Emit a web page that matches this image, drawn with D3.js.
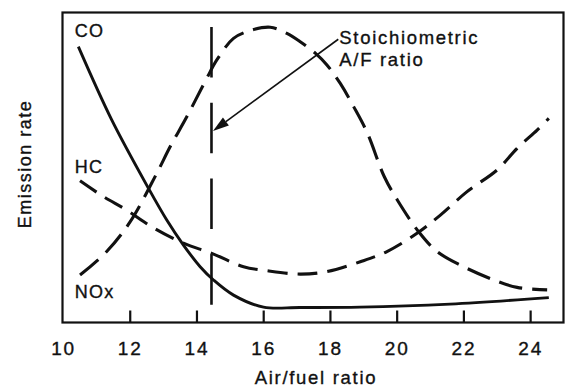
<!DOCTYPE html>
<html>
<head>
<meta charset="utf-8">
<script src="https://cdn.jsdelivr.net/npm/d3@7/dist/d3.min.js"></script>
<style>
  html, body { margin: 0; padding: 0; background: #fff; }
  svg { display: block; }
  text { font-family: "Liberation Sans", Arial, Helvetica, sans-serif; fill: #111; stroke: #111; stroke-width: 0.35px; }
</style>
</head>
<body>
<svg id="chart" width="568" height="387"></svg>
<script>
// Air/fuel ratio (x) vs. relative emission rate (arbitrary 0-100 scale)
const coX  = [10.46, 11.46, 12.56, 13.11, 13.61, 14.11, 14.51, 15.11, 16.01, 17.1, 18.9, 21.6, 24.56];
const coY  = [89.1, 65.4, 43.3, 33.0, 24.9, 17.9, 13.6, 8.7, 4.8, 4.7, 4.8, 5.8, 7.9];

const hcX  = [10.51, 11.21, 11.91, 12.66, 13.61, 14.46, 15.41, 16.11, 17.11, 17.91, 18.91, 19.71, 20.61, 21.31, 22.11, 23.01, 23.61, 24.21, 24.56];
const hcY  = [45.7, 40.6, 36.2, 30.8, 25.5, 22.2, 17.9, 16.6, 15.5, 16.3, 19.5, 22.8, 28.7, 34.6, 42.2, 49.2, 56.2, 62.1, 65.9];

const noxX = [10.51, 11.31, 12.01, 12.81, 13.21, 13.71, 14.31, 14.61, 15.11, 15.61, 16.21, 16.71, 17.11, 17.56, 17.91, 18.31, 18.71, 19.12, 19.63, 20.02, 20.66, 21.21, 21.91, 22.91, 23.61, 24.51];
const noxY = [15.2, 22.8, 32.4, 48.1, 56.7, 66.4, 78.9, 84.8, 91.8, 94.3, 95.4, 93.4, 90.7, 87.0, 83.2, 77.2, 69.7, 61.2, 47.0, 39.5, 29.2, 22.8, 18.4, 13.6, 11.2, 10.4];

const seriesNames = ["CO", "HC", "NOx"];
const tickValues = [10, 12, 14, 16, 18, 20, 22, 24];
const tickLabels = ["10", "12", "14", "16", "18", "20", "22", "24"];

// stoichiometric ratio marker
const stoichAF = 14.45;
const stoichTop = 95.5, stoichBottom = 5.5;

const svg = d3.select("#chart");
const frame = { left: 62.5, right: 563.5, top: 12.5, bottom: 322.5 };

const x = d3.scaleLinear().domain([10, 25]).range([63, 563.5]);
const y = d3.scaleLinear().domain([0, 100]).range([322, 13]);

// frame
svg.append("rect")
  .attr("x", frame.left).attr("y", frame.top)
  .attr("width", frame.right - frame.left).attr("height", frame.bottom - frame.top)
  .attr("fill", "none").attr("stroke", "#111").attr("stroke-width", 2.2);

// bottom axis with inward ticks
const xAxis = d3.axisBottom(x)
  .tickValues(tickValues)
  .tickSize(-12)
  .tickPadding(22)
  .tickFormat((d, i) => tickLabels[i]);

const gx = svg.append("g")
  .attr("transform", `translate(0,${frame.bottom})`)
  .call(xAxis);
gx.select(".domain").remove();
gx.selectAll(".tick line").attr("stroke", "#111").attr("stroke-width", 2.2)
  .filter(d => d === 10).remove();
gx.selectAll(".tick text")
  .attr("fill", "#111")
  .style("font-size", "19px")
  .style("letter-spacing", "1.8px")
  .attr("dy", "0.32em")
  .attr("y", 26);

// axis titles
svg.append("text")
  .attr("x", 316).attr("y", 384)
  .attr("text-anchor", "middle")
  .style("font-size", "18.5px").style("letter-spacing", "1.7px")
  .text("Air/fuel ratio");

svg.append("text")
  .attr("transform", "translate(31,164) rotate(-90)")
  .attr("text-anchor", "middle")
  .style("font-size", "18px").style("letter-spacing", "1.5px")
  .text("Emission rate");

const line = d3.line()
  .x(d => x(d[0]))
  .y(d => y(d[1]))
  .curve(d3.curveCatmullRom.alpha(0.5));

const zip = (a, b) => a.map((v, i) => [v, b[i]]);

// stoichiometric line
svg.append("line")
  .attr("x1", x(stoichAF)).attr("x2", x(stoichAF))
  .attr("y1", y(stoichTop)).attr("y2", y(stoichBottom))
  .attr("stroke", "#111").attr("stroke-width", 2.6)
  .attr("stroke-dasharray", "50.5,25.3");

// curves
svg.append("path").datum(zip(coX, coY))
  .attr("d", line).attr("fill", "none")
  .attr("stroke", "#111").attr("stroke-width", 2.9);

svg.append("path").datum(zip(hcX, hcY))
  .attr("d", line).attr("fill", "none")
  .attr("stroke", "#111").attr("stroke-width", 3.1)
  .attr("stroke-dasharray", "20,10");

svg.append("path").datum(zip(noxX, noxY))
  .attr("d", line).attr("fill", "none")
  .attr("stroke", "#111").attr("stroke-width", 3.1)
  .attr("stroke-dasharray", "24,10");

// series labels
const labelPos = [[10.35, 92.2], [10.35, 48.2], [10.35, 7.8]];
svg.selectAll("text.series")
  .data(seriesNames)
  .join("text")
  .attr("class", "series")
  .attr("x", (d, i) => x(labelPos[i][0]))
  .attr("y", (d, i) => y(labelPos[i][1]))
  .style("font-size", "18px").style("letter-spacing", "1.3px")
  .text(d => d);

// annotation arrow
const tipX = x(stoichAF) + 1.5, tipY = y(61.8);
const startX = x(18.25), startY = y(91.5);
const ang = Math.atan2(startY - tipY, startX - tipX);
const headLen = 16, headHalf = 5;
const bx = tipX + headLen * Math.cos(ang), by = tipY + headLen * Math.sin(ang);
svg.append("line")
  .attr("x1", startX).attr("y1", startY)
  .attr("x2", bx).attr("y2", by)
  .attr("stroke", "#111").attr("stroke-width", 1.6);
svg.append("path")
  .attr("d", `M${tipX},${tipY}` +
             `L${bx - headHalf * Math.sin(ang)},${by + headHalf * Math.cos(ang)}` +
             `L${bx + headHalf * Math.sin(ang)},${by - headHalf * Math.cos(ang)}Z`)
  .attr("fill", "#111");

const note = svg.append("text")
  .attr("x", startX + 1).attr("y", 44)
  .style("font-size", "18.5px").style("letter-spacing", "1.7px");
note.append("tspan").attr("x", startX + 1).text("Stoichiometric");
note.append("tspan").attr("x", startX + 1).attr("dy", 22).text("A/F ratio");
</script>
</body>
</html>
